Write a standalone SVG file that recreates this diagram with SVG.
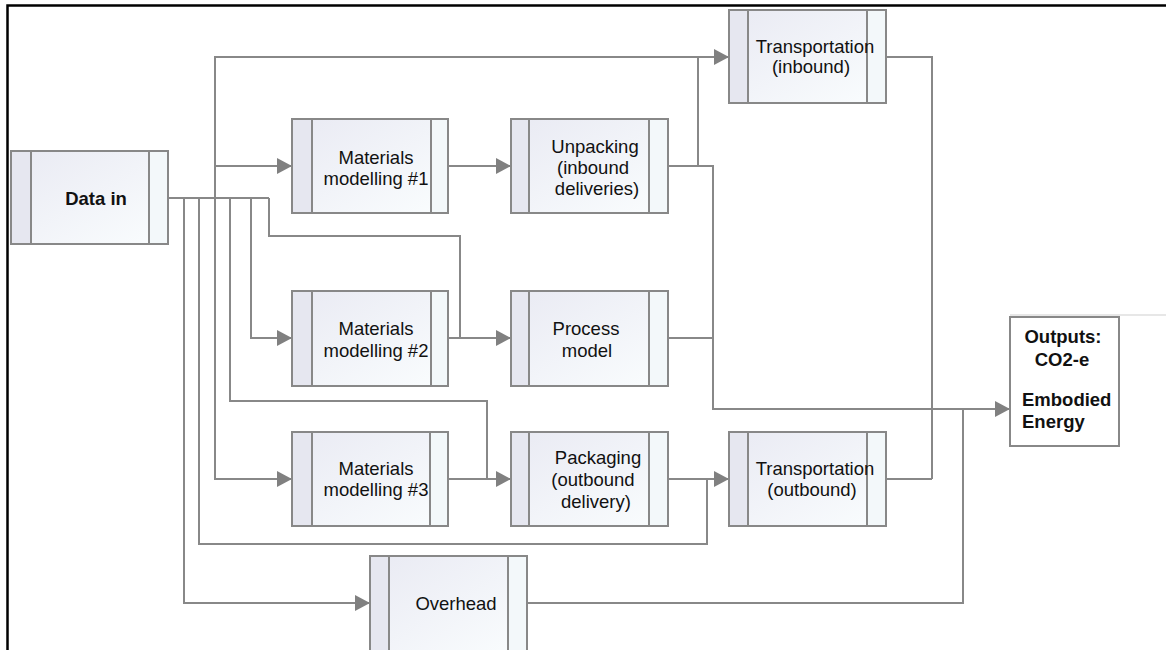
<svg xmlns="http://www.w3.org/2000/svg" width="1166" height="650" viewBox="0 0 1166 650">
<style>
.frame{fill:none;stroke:#000;stroke-width:2.5}
.body{fill:url(#g);stroke:#888;stroke-width:2}
.ls{fill:#e6e7f0;stroke:#888;stroke-width:2}
.rs{fill:#f3f8fa;stroke:#888;stroke-width:2}
.out{fill:#fff;stroke:#888;stroke-width:2}
.t{font-family:"Liberation Sans",Arial,sans-serif;font-size:18.5px;fill:#111;text-anchor:middle}
.b{font-weight:bold}
.s{text-anchor:start}
.c{fill:none;stroke:#888;stroke-width:2}
.a{marker-end:url(#arr)}
</style>
<defs>
<linearGradient id="g" x1="0" y1="0" x2="1" y2="1">
<stop offset="0" stop-color="#e9eaf3"/>
<stop offset="1" stop-color="#fafdfe"/>
</linearGradient>
<marker id="arr" markerUnits="userSpaceOnUse" markerWidth="15" markerHeight="16" refX="15" refY="8" orient="auto">
<path d="M0,0 L15,8 L0,16 z" fill="#808080"/>
</marker>
</defs>
<rect width="1166" height="650" fill="#fff"/>
<path class="frame" d="M7.5,652 V5.5 H1168"/>
<line x1="1010" y1="315" x2="1166" y2="315" stroke="#cfcfcf" stroke-width="1"/>

<g id="connectors">
<path class="c" d="M168,198 H269"/>
<path class="c a" d="M215,198 V57 H729"/>
<path class="c a" d="M215,166 H292"/>
<path class="c a" d="M215,198 V479 H292"/>
<path class="c a" d="M184,198 V603 H370"/>
<path class="c" d="M199,198 V544 H707 V479"/>
<path class="c" d="M230,198 V401 H487 V479"/>
<path class="c a" d="M251,198 V338 H292"/>
<path class="c" d="M269,198 V236 H460 V338"/>
<path class="c a" d="M448,166 H511"/>
<path class="c" d="M668,166 H698 V57"/>
<path class="c a" d="M668,166 H713 V409 H1010"/>
<path class="c" d="M668,338 H713"/>
<path class="c a" d="M448,338 H511"/>
<path class="c a" d="M448,479 H511"/>
<path class="c a" d="M668,479 H729"/>
<path class="c" d="M886,57 H932 V479"/>
<path class="c" d="M886,479 H932"/>
<path class="c" d="M527,603 H963 V409"/>
</g>

<g id="data-in">
<rect class="body" x="11" y="151" width="157" height="93"/>
<rect class="ls" x="11" y="151" width="20" height="93"/>
<rect class="rs" x="149" y="151" width="19" height="93"/>
<text class="t b" x="96" y="205">Data in</text>
</g>

<g id="transport-inbound">
<rect class="body" x="729" y="10" width="157" height="93"/>
<rect class="ls" x="729" y="10" width="19" height="93"/>
<rect class="rs" x="867" y="10" width="19" height="93"/>
<text class="t" x="815" y="53">Transportation</text>
<text class="t" x="811" y="73">(inbound)</text>
</g>

<g id="mm1">
<rect class="body" x="292" y="119" width="156" height="94"/>
<rect class="ls" x="292" y="119" width="20" height="94"/>
<rect class="rs" x="431" y="119" width="17" height="94"/>
<text class="t" x="376" y="164">Materials</text>
<text class="t" x="376" y="185">modelling #1</text>
</g>

<g id="unpacking">
<rect class="body" x="511" y="119" width="157" height="94"/>
<rect class="ls" x="511" y="119" width="18" height="94"/>
<rect class="rs" x="649" y="119" width="19" height="94"/>
<text class="t" x="595" y="153">Unpacking</text>
<text class="t" x="593" y="174">(inbound</text>
<text class="t" x="597" y="195">deliveries)</text>
</g>

<g id="mm2">
<rect class="body" x="292" y="291" width="156" height="95"/>
<rect class="ls" x="292" y="291" width="20" height="95"/>
<rect class="rs" x="431" y="291" width="17" height="95"/>
<text class="t" x="376" y="335">Materials</text>
<text class="t" x="376" y="357">modelling #2</text>
</g>

<g id="process-model">
<rect class="body" x="511" y="291" width="157" height="95"/>
<rect class="ls" x="511" y="291" width="18" height="95"/>
<rect class="rs" x="649" y="291" width="19" height="95"/>
<text class="t" x="586" y="335">Process</text>
<text class="t" x="587" y="357">model</text>
</g>

<g id="mm3">
<rect class="body" x="292" y="432" width="156" height="94"/>
<rect class="ls" x="292" y="432" width="20" height="94"/>
<rect class="rs" x="430" y="432" width="18" height="94"/>
<text class="t" x="376" y="475">Materials</text>
<text class="t" x="376" y="496">modelling #3</text>
</g>

<g id="packaging">
<rect class="body" x="511" y="432" width="157" height="94"/>
<rect class="ls" x="511" y="432" width="18" height="94"/>
<rect class="rs" x="649" y="432" width="19" height="94"/>
<text class="t" x="598" y="464">Packaging</text>
<text class="t" x="593" y="486">(outbound</text>
<text class="t" x="596" y="508">delivery)</text>
</g>

<g id="transport-outbound">
<rect class="body" x="729" y="432" width="157" height="94"/>
<rect class="ls" x="729" y="432" width="19" height="94"/>
<rect class="rs" x="867" y="432" width="19" height="94"/>
<text class="t" x="815" y="475">Transportation</text>
<text class="t" x="812" y="496">(outbound)</text>
</g>

<g id="overhead">
<rect class="body" x="370" y="556" width="157" height="98"/>
<rect class="ls" x="370" y="556" width="19" height="98"/>
<rect class="rs" x="508" y="556" width="19" height="98"/>
<text class="t" x="456" y="610">Overhead</text>
</g>

<g id="outputs">
<rect class="out" x="1010" y="317" width="109" height="129"/>
<text class="t b" x="1063" y="343">Outputs:</text>
<text class="t b" x="1062" y="366">CO2-e</text>
<text class="t b s" x="1022" y="406">Embodied</text>
<text class="t b s" x="1022" y="428">Energy</text>
</g>
</svg>
